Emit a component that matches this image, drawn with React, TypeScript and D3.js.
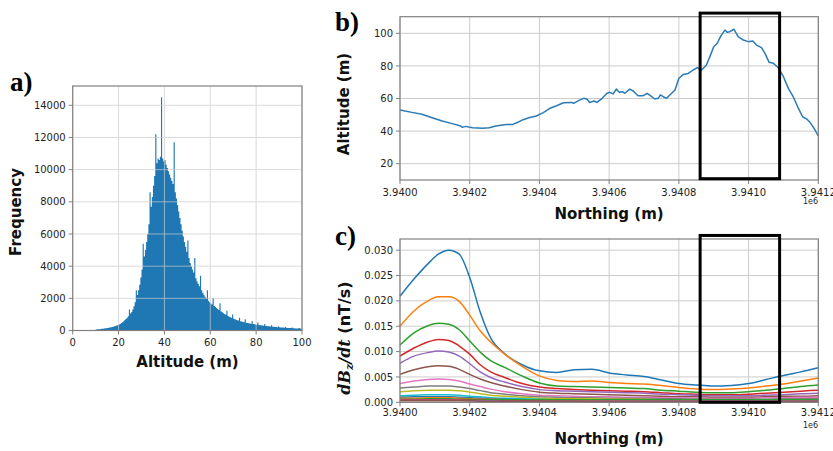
import React, { useEffect, useRef } from 'react';
import * as d3 from 'd3';

const W = 833;
const H = 451;

// a) altitude histogram, 0.5 m bins starting at 10 m
const histBinStart = 10;
const histBinWidth = 0.5;
const histCounts = [
  60, 70, 80, 85, 95, 105, 115, 125, 135, 145,
  160, 175, 190, 205, 220, 240, 260, 285, 310, 340,
  370, 410, 460, 520, 580, 650, 720, 800, 880, 1300,
  1050, 1150, 1300, 1500, 1750, 2500, 2200, 2500, 2850, 3300,
  3800, 5400, 4600, 5000, 5500, 6000, 6600, 8600, 7700, 8300,
  9000, 9600, 12200, 10400, 10700, 10600, 10800, 14500, 10700, 10500,
  10600, 10300, 10100, 9900, 9700, 9500, 9300, 9100, 11700, 8600,
  8200, 7800, 7400, 7000, 6600, 6200, 5850, 5500, 5200, 4900,
  5600, 4500, 4200, 4000, 3800, 3600, 4500, 3250, 3050, 2900,
  2750, 3400, 2500, 2350, 2200, 2100, 2000, 2500, 1850, 1750,
  1680, 1620, 2000, 1520, 1460, 1400, 1340, 1280, 1700, 1180,
  1130, 1080, 1030, 980, 1230, 900, 860, 820, 790, 1000,
  730, 700, 670, 640, 620, 800, 580, 560, 540, 520,
  700, 485, 470, 455, 440, 425, 590, 400, 385, 375,
  360, 500, 340, 330, 320, 310, 300, 400, 285, 275,
  265, 258, 250, 320, 235, 228, 220, 214, 208, 260,
  196, 190, 185, 180, 175, 215, 165, 160, 156, 152,
  148, 180, 140, 136, 132, 128, 124, 150, 118, 115,
];
const altTicks = [0, 20, 40, 60, 80, 100];
const freqTicks = [0, 2000, 4000, 6000, 8000, 10000, 12000, 14000];

// b) flight altitude along the line (northing given as offset from 3 940 000 m)
const northingBase = 3940000;
const profileNorthing = [
  0, 34, 63, 92, 121, 150, 174, 179, 188, 208, 237, 256, 275, 304, 324, 338, 353, 372, 391, 411,
  430, 449, 469, 493, 498, 512, 527, 536, 544, 556, 565, 580, 594, 602, 611, 621, 629, 638, 645, 659,
  669, 683, 698, 709, 722, 731, 741, 747, 755, 765, 774, 789, 800, 813, 827, 841, 853, 865, 879, 889,
  900, 910, 921, 932, 939, 946, 958, 970, 985, 999, 1012, 1023, 1037, 1047, 1059, 1071, 1085, 1100, 1114, 1128,
  1143, 1155, 1167, 1176, 1188, 1200,
];
const profileAltitude = [
  52.9, 51.5, 50.3, 48.2, 46.2, 44.6, 43.1, 42.3, 42.9, 42.1, 41.7, 42.1, 43.1, 44.1, 44.1, 45.4, 47.0, 48.4, 49.3, 51.3,
  54.0, 55.6, 57.4, 57.6, 57.0, 58.7, 60.1, 59.7, 57.6, 58.5, 57.6, 60.1, 63.2, 63.8, 62.8, 65.8, 63.8, 64.2, 63.2, 65.8,
  64.6, 61.7, 61.7, 63.2, 61.1, 59.7, 60.1, 62.2, 61.1, 60.1, 62.2, 65.2, 72.4, 74.8, 75.4, 77.5, 78.9, 77.5, 80.6, 85.7,
  91.8, 93.9, 98.6, 102.0, 100.6, 101.0, 102.5, 98.0, 95.9, 94.9, 95.3, 92.8, 91.2, 87.7, 82.2, 81.6, 78.9, 73.4, 66.2, 61.1,
  53.9, 48.8, 47.4, 45.4, 41.7, 37.0,
];
const northingTicks = [3940000, 3940200, 3940400, 3940600, 3940800, 3941000, 3941200];
const altitudeTicks = [20, 40, 60, 80, 100];

// c) dBz/dt decay channels, early to late
const decayNorthing = [
  0, 40, 80, 110, 140, 170, 200, 230, 260, 300, 350, 400, 450, 500,
  550, 600, 650, 700, 750, 800, 850, 900, 950, 1000, 1050, 1100, 1150, 1200,
];
const decayChannels = [
  [0.0209, 0.0243, 0.0273, 0.0292, 0.0300, 0.0292, 0.0246, 0.0178, 0.0127, 0.0096, 0.0074, 0.0062, 0.0059, 0.0064,
    0.0065, 0.0058, 0.0054, 0.0051, 0.0044, 0.0037, 0.0034, 0.0032, 0.0033, 0.0037, 0.0045, 0.0053, 0.0060, 0.0068],
  [0.0150, 0.0180, 0.0200, 0.0208, 0.0208, 0.0199, 0.0172, 0.0141, 0.0119, 0.0095, 0.0071, 0.0052, 0.0043, 0.0041,
    0.0042, 0.0039, 0.0037, 0.0036, 0.0033, 0.0029, 0.0026, 0.0025, 0.0026, 0.0028, 0.0032, 0.0036, 0.0042, 0.0048],
  [0.0113, 0.0137, 0.0151, 0.0156, 0.0154, 0.0143, 0.0121, 0.0099, 0.0082, 0.0069, 0.0052, 0.0038, 0.0032, 0.0031,
    0.0030, 0.0029, 0.0028, 0.0027, 0.0024, 0.0022, 0.0020, 0.0019, 0.0019, 0.0021, 0.0024, 0.0027, 0.0031, 0.0034],
  [0.0091, 0.0107, 0.0119, 0.0124, 0.0122, 0.0111, 0.0095, 0.0074, 0.0060, 0.0049, 0.0037, 0.0030, 0.0027, 0.0025,
    0.0024, 0.0023, 0.0022, 0.0021, 0.0019, 0.0017, 0.0016, 0.0015, 0.0015, 0.0016, 0.0018, 0.0020, 0.0022, 0.0024],
  [0.0077, 0.0091, 0.0098, 0.0101, 0.0099, 0.0091, 0.0076, 0.0060, 0.0049, 0.0040, 0.0031, 0.0025, 0.0023, 0.0022,
    0.0021, 0.0020, 0.0019, 0.0018, 0.0016, 0.0015, 0.0014, 0.0013, 0.0013, 0.0013, 0.0014, 0.0015, 0.0017, 0.0018],
  [0.0055, 0.0064, 0.0070, 0.0072, 0.0071, 0.0065, 0.0055, 0.0046, 0.0039, 0.0032, 0.0025, 0.0020, 0.0018, 0.0017,
    0.0016, 0.0015, 0.0014, 0.0013, 0.0012, 0.0011, 0.0011, 0.0010, 0.0010, 0.0010, 0.0011, 0.0012, 0.0012, 0.0013],
  [0.0037, 0.0042, 0.0045, 0.0046, 0.0045, 0.0042, 0.0036, 0.0031, 0.0026, 0.0021, 0.0017, 0.0014, 0.0013, 0.0012,
    0.0011, 0.0011, 0.0010, 0.0010, 0.0009, 0.0009, 0.0008, 0.0008, 0.0008, 0.0008, 0.0009, 0.0009, 0.0010, 0.0010],
  [0.0028, 0.0030, 0.0032, 0.0032, 0.0032, 0.0030, 0.0027, 0.0023, 0.0019, 0.0016, 0.0013, 0.0011, 0.0010, 0.0009,
    0.0009, 0.0008, 0.0008, 0.0008, 0.0007, 0.0007, 0.0006, 0.0006, 0.0006, 0.0006, 0.0006, 0.0007, 0.0007, 0.0007],
  [0.0021, 0.0023, 0.0024, 0.0024, 0.0024, 0.0023, 0.0020, 0.0017, 0.0014, 0.0012, 0.0010, 0.0008, 0.0007, 0.0007,
    0.0007, 0.0006, 0.0006, 0.0006, 0.0005, 0.0005, 0.0005, 0.0005, 0.0005, 0.0005, 0.0005, 0.0005, 0.0005, 0.0005],
  [0.0013, 0.0014, 0.0015, 0.0015, 0.0015, 0.0014, 0.0012, 0.0011, 0.0009, 0.0008, 0.0007, 0.0006, 0.0005, 0.0005,
    0.0005, 0.0004, 0.0004, 0.0004, 0.0004, 0.0004, 0.0004, 0.0004, 0.0004, 0.0004, 0.0004, 0.0004, 0.0004, 0.0004],
  [0.0010, 0.0011, 0.0011, 0.0011, 0.0011, 0.0010, 0.0009, 0.0008, 0.0007, 0.0006, 0.0005, 0.0004, 0.0004, 0.0004,
    0.0003, 0.0003, 0.0003, 0.0003, 0.0003, 0.0003, 0.0003, 0.0003, 0.0003, 0.0003, 0.0003, 0.0003, 0.0003, 0.0003],
  [0.0008, 0.0008, 0.0009, 0.0009, 0.0009, 0.0008, 0.0007, 0.0006, 0.0006, 0.0005, 0.0004, 0.0004, 0.0003, 0.0003,
    0.0003, 0.0003, 0.0003, 0.0002, 0.0002, 0.0002, 0.0002, 0.0002, 0.0002, 0.0002, 0.0002, 0.0002, 0.0002, 0.0002],
  [0.0006, 0.0006, 0.0007, 0.0007, 0.0007, 0.0006, 0.0006, 0.0005, 0.0005, 0.0005, 0.0005, 0.0005, 0.0005, 0.0005,
    0.0005, 0.0005, 0.0005, 0.0005, 0.0005, 0.0005, 0.0005, 0.0005, 0.0005, 0.0005, 0.0005, 0.0005, 0.0005, 0.0005],
  [0.0005, 0.0005, 0.0005, 0.0005, 0.0005, 0.0005, 0.0004, 0.0004, 0.0003, 0.0003, 0.0003, 0.0002, 0.0002, 0.0002,
    0.0002, 0.0002, 0.0002, 0.0002, 0.0002, 0.0002, 0.0002, 0.0002, 0.0002, 0.0002, 0.0002, 0.0002, 0.0002, 0.0002],
  [0.0004, 0.0004, 0.0004, 0.0004, 0.0004, 0.0004, 0.0003, 0.0003, 0.0003, 0.0002, 0.0002, 0.0002, 0.0002, 0.0002,
    0.0002, 0.0002, 0.0002, 0.0002, 0.0002, 0.0002, 0.0002, 0.0002, 0.0002, 0.0002, 0.0002, 0.0002, 0.0002, 0.0002],
  [0.0003, 0.0003, 0.0003, 0.0003, 0.0003, 0.0003, 0.0003, 0.0002, 0.0002, 0.0002, 0.0002, 0.0002, 0.0002, 0.0002,
    0.0001, 0.0001, 0.0001, 0.0001, 0.0001, 0.0001, 0.0001, 0.0001, 0.0001, 0.0001, 0.0001, 0.0001, 0.0001, 0.0001],
];
const dbdtTicks = [0, 0.005, 0.01, 0.015, 0.02, 0.025, 0.03];

// window highlighted in b) and c)
const windowNorthing = [3940861, 3941089];
const windowAltitude = [10.8, 112.4];
const windowDbdt = [0, 0.0329];

const SANS = 'DejaVu Sans, sans-serif';
const SERIF = 'Liberation Serif, Times New Roman, serif';
const GRID = '#cccccc';
const SPINE = '#808080';
const TEXT = '#1e1e1e';

const App = () => {
  const svgRef = useRef(null);

  useEffect(() => {
    const svg = d3.select(svgRef.current);
    svg.selectAll('*').remove();

    const grid = (g, x, y, xt, yt) => {
      g.selectAll('.gx').data(xt).enter().append('line')
        .attr('x1', d => x(d)).attr('x2', d => x(d))
        .attr('y1', y.range()[0]).attr('y2', y.range()[1])
        .attr('stroke', GRID).attr('stroke-width', 1);
      g.selectAll('.gy').data(yt).enter().append('line')
        .attr('x1', x.range()[0]).attr('x2', x.range()[1])
        .attr('y1', d => y(d)).attr('y2', d => y(d))
        .attr('stroke', GRID).attr('stroke-width', 1);
    };

    const frame = (g, x, y, xt, yt, fx, fy, xLabelGap) => {
      const [x0, x1] = x.range();
      const [y0, y1] = y.range();
      g.append('rect')
        .attr('x', x0).attr('y', y1).attr('width', x1 - x0).attr('height', y0 - y1)
        .attr('fill', 'none').attr('stroke', SPINE).attr('stroke-width', 1.2);
      xt.forEach(t => {
        g.append('line').attr('x1', x(t)).attr('x2', x(t)).attr('y1', y0).attr('y2', y0 + 4)
          .attr('stroke', SPINE);
        g.append('text').attr('x', x(t)).attr('y', y0 + xLabelGap)
          .attr('text-anchor', 'middle').attr('font-family', SANS).attr('font-size', 10)
          .attr('fill', TEXT).text(fx(t));
      });
      yt.forEach(t => {
        g.append('line').attr('x1', x0 - 4).attr('x2', x0).attr('y1', y(t)).attr('y2', y(t))
          .attr('stroke', SPINE);
        g.append('text').attr('x', x0 - 7).attr('y', y(t)).attr('dy', '0.36em')
          .attr('text-anchor', 'end').attr('font-family', SANS).attr('font-size', 10)
          .attr('fill', TEXT).text(fy(t));
      });
    };

    const label = (x, y, text, rotate = false) => {
      svg.append('text')
        .attr('transform', rotate ? `translate(${x},${y}) rotate(-90)` : `translate(${x},${y})`)
        .attr('text-anchor', 'middle').attr('font-family', SANS).attr('font-size', 15)
        .attr('font-weight', 'bold').attr('fill', '#111').text(text);
    };

    const panelTag = (x, y, text) => {
      svg.append('text').attr('x', x).attr('y', y)
        .attr('font-family', SERIF).attr('font-size', 27).attr('font-weight', 'bold')
        .attr('fill', '#000').text(text);
    };

    // ---- a) histogram, drawn as one stepped outline so neighbouring bins do not seam
    const xA = d3.scaleLinear().domain([0, 100]).range([72.7, 302]);
    const yA = d3.scaleLinear().domain([0, 15200]).range([330.5, 86]);
    const bins = histCounts.map((c, i) => [histBinStart + i * histBinWidth, c]);
    bins.push([histBinStart + histCounts.length * histBinWidth, histCounts[histCounts.length - 1]]);
    svg.append('path').datum(bins)
      .attr('d', d3.area().curve(d3.curveStepAfter)
        .x(d => xA(d[0])).y0(yA(0)).y1(d => yA(d[1])))
      .attr('fill', '#1f77b4');
    // grid sits over the bars, as in matplotlib
    const gAg = svg.append('g').attr('opacity', 0.7);
    grid(gAg, xA, yA, altTicks, freqTicks);
    frame(svg.append('g'), xA, yA, altTicks, freqTicks, d => d, d => d, 15.5);
    label(187.5, 367, 'Altitude (m)');
    label(21, 212, 'Frequency', true);
    panelTag(10, 91, 'a)');

    const fmtNorth = d => (d / 1e6).toFixed(4);

    // ---- b) altitude profile
    const xB = d3.scaleLinear().domain([3940000, 3941200]).range([400, 818.3]);
    const yB = d3.scaleLinear().domain([10, 110.2]).range([180, 16.7]);
    const gB = svg.append('g');
    grid(gB, xB, yB, northingTicks, altitudeTicks);
    const profile = profileNorthing.map((n, i) => [northingBase + n, profileAltitude[i]]);
    gB.append('path').datum(profile)
      .attr('d', d3.line().x(d => xB(d[0])).y(d => yB(d[1])))
      .attr('fill', 'none').attr('stroke', '#2a7ab8').attr('stroke-width', 1.5)
      .attr('stroke-linejoin', 'round');
    frame(gB, xB, yB, northingTicks, altitudeTicks, fmtNorth, d => d, 16);
    gB.append('rect')
      .attr('x', xB(windowNorthing[0])).attr('y', yB(windowAltitude[1]))
      .attr('width', xB(windowNorthing[1]) - xB(windowNorthing[0]))
      .attr('height', yB(windowAltitude[0]) - yB(windowAltitude[1]))
      .attr('fill', 'none').attr('stroke', '#000').attr('stroke-width', 3);
    svg.append('text').attr('x', 818).attr('y', 204).attr('text-anchor', 'end')
      .attr('font-family', SANS).attr('font-size', 8).attr('fill', TEXT).text('1e6');
    label(609, 219, 'Northing (m)');
    label(349, 104, 'Altitude (m)', true);
    panelTag(335, 31, 'b)');

    // ---- c) dBz/dt channels
    const xC = d3.scaleLinear().domain([3940000, 3941200]).range([400, 818.3]);
    const yC = d3.scaleLinear().domain([0, 0.0322]).range([402.3, 239]);
    const gC = svg.append('g');
    grid(gC, xC, yC, northingTicks, dbdtTicks);
    const line = d3.line().curve(d3.curveMonotoneX)
      .x((d, i) => xC(northingBase + decayNorthing[i])).y(d => yC(d));
    decayChannels.forEach((ch, k) => {
      gC.append('path').datum(ch)
        .attr('d', line)
        .attr('fill', 'none').attr('stroke', d3.schemeCategory10[k % 10]).attr('stroke-width', 1.5);
    });
    frame(gC, xC, yC, northingTicks, dbdtTicks, fmtNorth, d => d.toFixed(3), 14);
    gC.append('rect')
      .attr('x', xC(windowNorthing[0])).attr('y', yC(windowDbdt[1]))
      .attr('width', xC(windowNorthing[1]) - xC(windowNorthing[0]))
      .attr('height', yC(windowDbdt[0]) - yC(windowDbdt[1]))
      .attr('fill', 'none').attr('stroke', '#000').attr('stroke-width', 3);
    svg.append('text').attr('x', 818).attr('y', 428).attr('text-anchor', 'end')
      .attr('font-family', SANS).attr('font-size', 8).attr('fill', TEXT).text('1e6');
    label(609, 444, 'Northing (m)');
    panelTag(335, 245, 'c)');

    // math-style y label: dB_z/dt (nT/s)
    const yl = svg.append('text')
      .attr('transform', 'translate(350,338) rotate(-90)')
      .attr('text-anchor', 'middle').attr('font-size', 16).attr('font-weight', 'bold').attr('fill', '#111');
    yl.append('tspan').attr('font-family', 'DejaVu Serif, serif').attr('font-style', 'italic').text('dB');
    yl.append('tspan').attr('font-family', 'DejaVu Serif, serif').attr('font-style', 'italic')
      .attr('font-size', 11).attr('dy', 3).text('z');
    yl.append('tspan').attr('font-family', 'DejaVu Serif, serif').attr('font-style', 'italic')
      .attr('dy', -3).text('/dt');
    yl.append('tspan').attr('font-family', SANS).text(' (nT/s)');
  }, []);

  return (
    <div style={{ position: 'absolute', left: 0, top: 0, width: W, height: H, background: '#fff' }}>
      <svg ref={svgRef} width={W} height={H}></svg>
    </div>
  );
};

export default App;
